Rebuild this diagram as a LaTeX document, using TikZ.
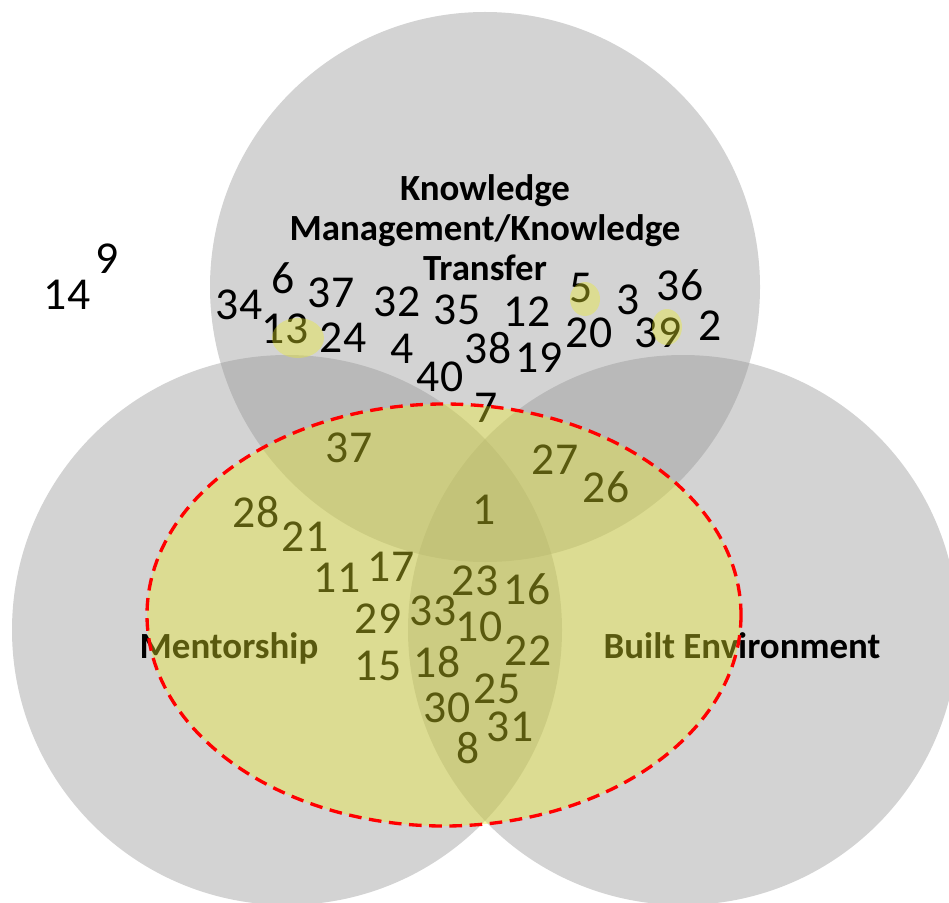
\documentclass[tikz,border=0pt]{standalone}
\usepackage{fontspec}
\setmainfont{Carlito}
\definecolor{setgray}{RGB}{150,150,150}
\definecolor{hiyellow}{RGB}{236,236,40}
\definecolor{dashred}{RGB}{255,0,0}

\begin{document}
\begin{tikzpicture}[
    x=0.02cm, y=-0.02cm,
    gray_set/.style={fill=setgray, fill opacity=0.42},
    hi_set/.style={fill=hiyellow, fill opacity=0.38},
    num_label/.style={inner sep=0pt, font=\fontsize{26}{28}\selectfont},
    set_label/.style={inner sep=0pt, anchor=base, font=\fontsize{21}{22.7}\selectfont\bfseries}
]
    \useasboundingbox (0,0) rectangle (949,902);
    % the three sets
    \fill[gray_set] (485,287) circle [radius=275];
    \fill[gray_set] (287,630) circle [radius=275];
    \fill[gray_set] (683,630) circle [radius=275];

    \node[set_label, align=center] (KM) at (485,280) {Knowledge\\Management/Knowledge\\Transfer};
    \node[set_label] (M) at (229,658) {Mentorship};
    \node[set_label] (BE) at (742,658) {Built Environment};

    % outside all sets
    \node[num_label] (n14) at (67,295) {14};
    \node[num_label] (n9) at (107,259) {9};

    % knowledge management only
    \node[num_label] (n34) at (239,305) {34};
    \node[num_label] (n6) at (283,278) {6};
    \node[num_label] (n37a) at (331,293) {37};
    \node[num_label] (n13) at (285,329) {13};
    \node[num_label] (n24) at (343,338) {24};
    \node[num_label] (n32) at (397,302) {32};
    \node[num_label] (n4) at (402,349) {4};
    \node[num_label] (n35) at (457,310) {35};
    \node[num_label] (n40) at (440,377) {40};
    \node[num_label] (n38) at (488,348) {38};
    \node[num_label] (n12) at (527,312) {12};
    \node[num_label] (n19) at (539,358) {19};
    \node[num_label] (n5) at (581,288) {5};
    \node[num_label] (n20) at (589,333) {20};
    \node[num_label] (n3) at (628,300) {3};
    \node[num_label] (n36) at (680,285) {36};
    \node[num_label] (n39) at (658,333) {39};
    \node[num_label] (n2) at (710,326) {2};
    \node[num_label] (n7) at (486,408) {7};

    % inside the highlighted area
    \node[num_label] (n37b) at (349,448) {37};
    \node[num_label] (n27) at (555,460) {27};
    \node[num_label] (n26) at (606,487) {26};
    \node[num_label] (n1) at (484,510) {1};
    \node[num_label] (n28) at (256,512) {28};
    \node[num_label] (n21) at (305,537) {21};
    \node[num_label] (n11) at (337,578) {11};
    \node[num_label] (n17) at (391,567) {17};
    \node[num_label] (n23) at (475,581) {23};
    \node[num_label] (n16) at (527,589) {16};
    \node[num_label] (n29) at (378,619) {29};
    \node[num_label] (n33) at (433,611) {33};
    \node[num_label] (n10) at (479,627) {10};
    \node[num_label] (n22) at (528,651) {22};
    \node[num_label] (n15) at (378,666) {15};
    \node[num_label] (n18) at (437,662) {18};
    \node[num_label] (n25) at (497,689) {25};
    \node[num_label] (n30) at (447,708) {30};
    \node[num_label] (n31) at (510,727) {31};
    \node[num_label] (n8) at (468,748) {8};

    % highlights
    \fill[hi_set] (444,615) ellipse [x radius=297, y radius=211];
    \fill[hi_set] (298,338) ellipse [x radius=26, y radius=20];
    \fill[hi_set] (585,299) ellipse [x radius=15, y radius=17];
    \fill[hi_set] (667,327) ellipse [x radius=15, y radius=18];
    \draw[dashred, line width=1.9pt, dash pattern=on 7.2pt off 4.3pt]
        (444,615) ellipse [x radius=297, y radius=211];
\end{tikzpicture}
\end{document}
